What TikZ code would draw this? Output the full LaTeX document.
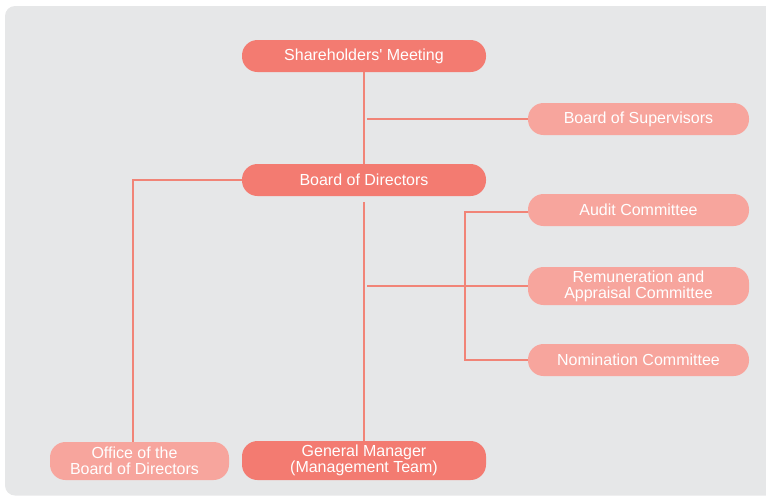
\documentclass[tikz,border=0pt]{standalone}
\usepackage{fontspec}
\setmainfont{Liberation Sans}
\definecolor{bgc}{HTML}{E6E7E8}
\definecolor{darkn}{HTML}{F37B71}
\definecolor{lightn}{HTML}{F7A59D}
\definecolor{linec}{HTML}{F18477}
\begin{document}
\begin{tikzpicture}[x=1pt,y=-1pt,
  box/.style={rectangle, rounded corners=#1, inner sep=0pt, text=white,
    align=center, font=\fontsize{16}{16}\selectfont},
  darkbox/.style={box=15.5pt, fill=darkn},
  lightbox/.style={box=15.5pt, fill=lightn},
  conn/.style={draw=linec, line width=1.3pt}]
\useasboundingbox (0,0) rectangle (766,496);
\clip (0,0) rectangle (766,496);
\fill[bgc, rounded corners=10pt] (5,6) rectangle (790,495.5);

\node[darkbox, minimum width=244pt, minimum height=32pt] (sm) at (364,56) {Shareholders\textquotesingle{} Meeting};
\node[lightbox, minimum width=221pt, minimum height=32pt] (bs) at (638.5,119) {Board of Supervisors};
\node[darkbox, minimum width=244pt, minimum height=32pt] (bd) at (364,180) {Board of Directors};
\node[lightbox, minimum width=221pt, minimum height=32pt] (ac) at (638.5,210) {Audit Committee};
\node[lightbox, minimum width=221pt, minimum height=38pt] (rc) at (638.5,286) {Remuneration and\\Appraisal Committee};
\node[lightbox, minimum width=221pt, minimum height=32pt] (nc) at (638.5,360) {Nomination Committee};
\node[lightbox, minimum width=179pt, minimum height=38pt] (ob) at (139.5,461) {Office of the\hspace*{10pt}\\Board of Directors\hspace*{10pt}};
\node[darkbox, minimum width=244pt, minimum height=39pt] (gm) at (364,460.5) {General Manager\\(Management Team)};

\coordinate (j1) at (367,119);
\coordinate (j2) at (367,286);
\coordinate (bdb) at (364,202);
\coordinate (oc) at (133,180);
\coordinate (ka) at (465,212);
\coordinate (kn) at (465,360);

\draw[conn] (sm.south) -- (bd.north);
\draw[conn] (j1) -- (bs.west);
\draw[conn] (bdb) -- (gm.north);
\draw[conn] (j2) -- (rc.west);
\draw[conn] (bd.west) -- (oc) -- (oc |- ob.north);
\draw[conn] (ac.west |- ka) -- (ka) -- (kn) -- (nc.west);
\end{tikzpicture}
\end{document}
